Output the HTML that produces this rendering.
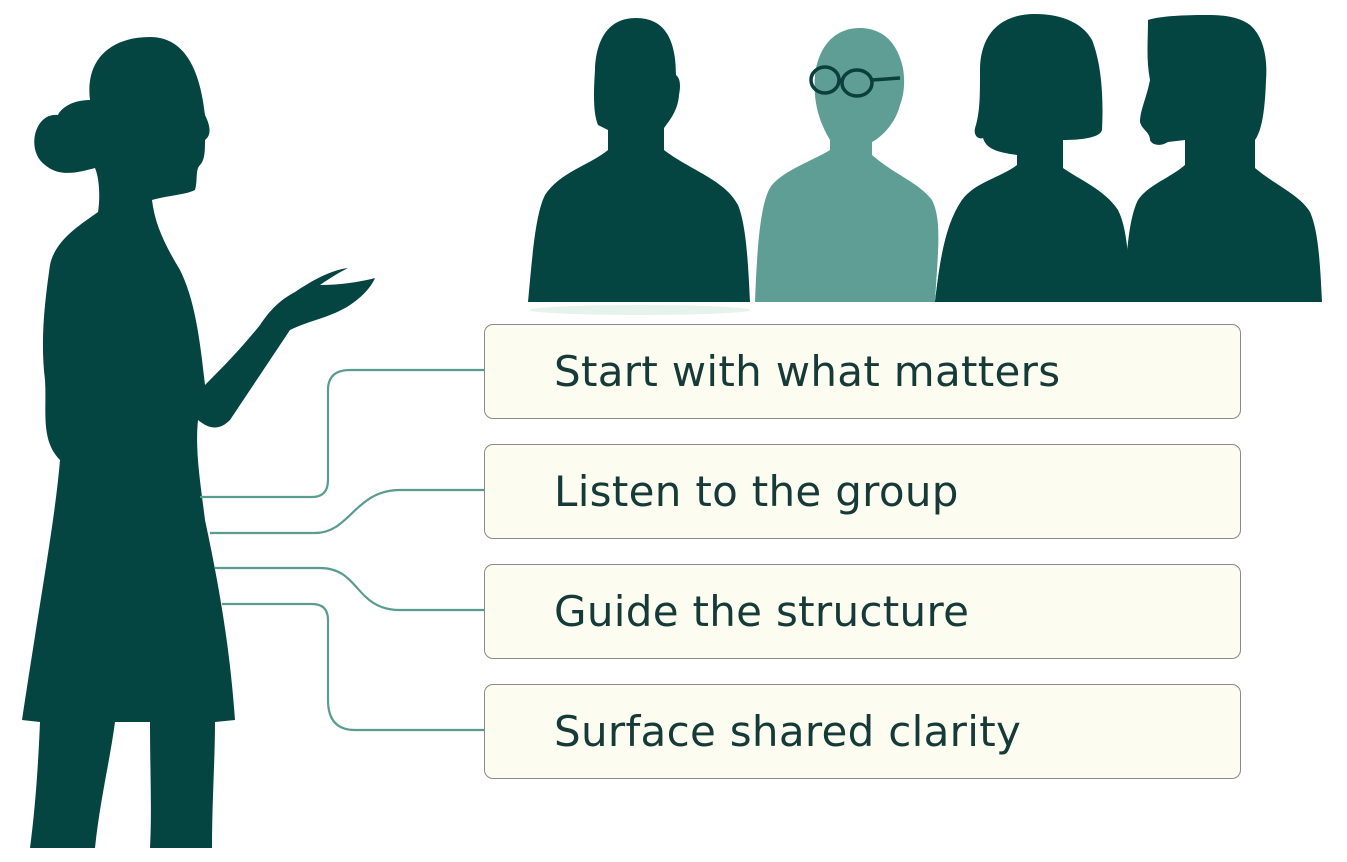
<!DOCTYPE html>
<html><head><meta charset="utf-8"><style>
html,body{margin:0;padding:0;background:#fff;width:1347px;height:862px;overflow:hidden}
.box{position:absolute;left:484px;width:757px;height:95px;border:1.5px solid #8a8a86;border-radius:9px;background:#fcfcf1;box-sizing:border-box;font-family:"DejaVu Sans","Liberation Sans",sans-serif;font-size:42px;letter-spacing:0.3px;color:#163a38;line-height:94px;padding-left:69px}
svg{position:absolute;left:0;top:0}
</style></head><body>
<svg width="1347" height="862" viewBox="0 0 1347 862">
<g fill="#054541">
<!-- woman -->
<path d="M150 37 C110 37 85 60 90 100 C70 100 60 110 58 115 C35 112 25 150 45 165 C60 178 80 172 95 168 C100 180 100 200 98 212 C80 225 55 240 50 265 C45 300 40 340 45 380 C47 410 40 440 60 460 C55 520 40 600 22 720 L40 722 C38 770 35 810 30 848 L95 848 C100 800 110 760 115 722 L150 722 C150 770 152 810 150 848 L212 848 C212 800 215 760 215 722 L235 720 C230 650 220 590 205 520 C200 480 195 450 198 420 C210 430 220 430 230 420 C250 390 270 360 290 330 C310 320 330 318 350 305 C365 295 372 285 375 278 C360 282 340 285 320 285 C330 278 340 272 348 268 C330 270 310 282 295 292 C280 300 270 310 260 325 C240 350 220 370 205 385 C200 340 195 300 180 270 C165 245 155 225 152 200 C170 195 185 195 195 190 C198 180 195 170 200 165 C205 160 205 150 205 140 C212 135 210 125 205 115 C200 70 185 37 150 37Z"/>
<!-- person1 -->
<path d="M636 18 C608 18 596 40 595 70 C593 100 594 115 598 125 L608 130 L608 150 C590 165 560 172 545 195 C535 215 532 260 528 302 L750 302 C748 260 746 225 738 205 C725 180 690 170 664 150 L664 128 C670 120 678 110 679 95 C681 85 680 78 676 75 C676 40 665 18 636 18Z"/>
<!-- person3 -->
<path d="M1035 14 C995 14 980 40 980 70 C980 95 980 110 976 125 C972 135 978 140 983 138 C986 148 995 152 1017 155 L1017 165 C1000 178 975 182 962 200 C945 225 940 260 935 302 L1132 302 C1128 260 1128 230 1118 210 C1105 190 1080 180 1063 168 L1063 140 C1080 140 1100 138 1102 130 C1104 90 1100 60 1092 40 C1082 22 1060 14 1035 14Z"/>
<!-- person4 -->
<path d="M1205 15 C1185 15 1160 16 1148 20 C1148 40 1146 60 1150 80 C1146 100 1140 110 1140 122 C1142 130 1150 132 1150 140 C1152 145 1160 147 1168 142 L1185 140 L1185 165 C1170 178 1148 185 1138 200 C1128 220 1126 260 1124 302 L1322 302 C1320 260 1318 230 1310 212 C1300 195 1275 185 1255 168 L1255 140 C1262 130 1265 110 1266 80 C1268 55 1262 35 1250 25 C1238 16 1222 15 1205 15Z"/>
</g>
<!-- person2 -->
<path fill="#5f9e94" d="M860 28 C832 28 818 50 815 75 C813 100 818 120 830 140 L830 150 C810 162 785 170 772 185 C760 200 757 250 755 302 L935 302 C938 250 942 220 932 200 C918 182 895 175 872 155 L872 142 C880 138 895 125 900 105 C906 90 905 70 900 58 C894 40 880 28 860 28Z"/>
<path fill="#054541" d="M935 302 C940 260 945 225 962 200 L975 190 L960 302Z"/>
<ellipse cx="640" cy="310" rx="110" ry="5" fill="#e6f3ec"/>
<g fill="none" stroke="#0b3f3c" stroke-width="3.5">
<ellipse cx="825" cy="80" rx="14" ry="13"/><ellipse cx="857" cy="83" rx="15" ry="13"/>
<path d="M839 80 L842 80 M872 80 L900 78"/>
</g>
<g fill="none" stroke="#5b9c91" stroke-width="2.2">
<path d="M200 497 L312 497 Q328 497 328 480 L328 390 Q328 370 350 370 L484 370"/>
<path d="M210 533 L315 533 C350 533 355 490 400 490 L484 490"/>
<path d="M215 568 L320 568 C360 568 355 610 400 610 L484 610"/>
<path d="M222 604 L312 604 Q328 604 328 620 L328 700 Q328 730 355 730 L484 730"/>
</g>
</svg>
<div class="box" style="top:324px">Start with what matters</div>
<div class="box" style="top:444px">Listen to the group</div>
<div class="box" style="top:564px">Guide the structure</div>
<div class="box" style="top:684px">Surface shared clarity</div>
</body></html>
